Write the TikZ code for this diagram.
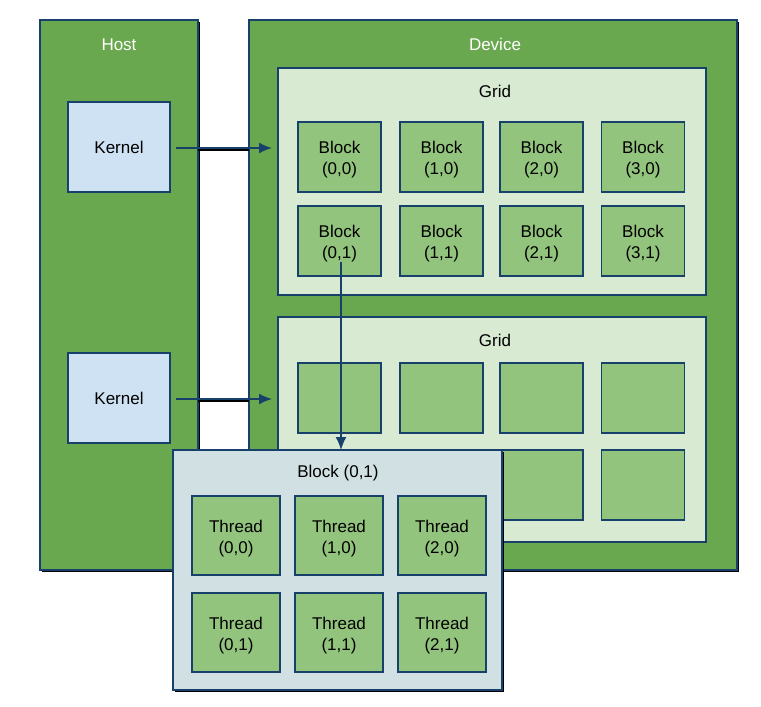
\documentclass[tikz,border=0pt]{standalone}
\usepackage{fontspec}
\setmainfont{Liberation Sans}
\usetikzlibrary{arrows.meta}
\definecolor{outergreen}{RGB}{106,168,79}
\definecolor{gridfill}{RGB}{217,234,211}
\definecolor{blockfill}{RGB}{147,196,125}
\definecolor{kernelfill}{RGB}{207,226,243}
\definecolor{panelfill}{RGB}{208,224,227}
\definecolor{edge}{RGB}{23,65,107}
\begin{document}
\begin{tikzpicture}[x=1pt,y=-1pt,
  every node/.style={font=\fontsize{17}{21}\selectfont, align=center},
  box/.style={draw=edge, line width=1.6pt, inner sep=0pt, outer sep=0pt},
  outerbox/.style={box, fill=outergreen},
  gridbox/.style={box, fill=gridfill},
  blockbox/.style={box, fill=blockfill, minimum width=83pt, minimum height=70pt},
  threadbox/.style={box, fill=blockfill, minimum width=88pt, minimum height=79pt},
  kernelbox/.style={box, fill=kernelfill, minimum width=102pt, minimum height=90pt},
  txt/.style={label={[align=center,yshift=-3pt,font=\fontsize{17}{21}\selectfont]center:{#1}}},
  shadow/.style={fill=black},
  conn/.style={draw=edge, line width=1.6pt, -{Latex[length=13pt,width=11pt]}}
]
\useasboundingbox (0,0) rectangle (761,707);
% shadows
\fill[shadow] (42,22) rectangle (200,572);
\fill[shadow] (251,22) rectangle (739,572);
% Host and Device
\draw[outerbox] (40,20) rectangle (198,570);
\draw[outerbox] (249,20) rectangle (737,570);
\node[text=white] (host) at (119,45) {Host};
\node[text=white] (device) at (495,44) {Device};
% Grids
\draw[gridbox] (278,68) rectangle (706,295);
\draw[gridbox] (278,317) rectangle (706,542);
\node (g1) at (495,91) {Grid};
\node (g2) at (495,340) {Grid};
% Kernels
\node[kernelbox] (k1) at (119,147) {Kernel};
\node[kernelbox] (k2) at (119,398) {Kernel};
% Blocks grid 1
\node[blockbox, txt={Block\\(0,0)}] (b00) at (339.5,157) {};
\node[blockbox, txt={Block\\(1,0)}] (b10) at (441.5,157) {};
\node[blockbox, txt={Block\\(2,0)}] (b20) at (541.5,157) {};
\node[blockbox, txt={Block\\(3,0)}] (b30) at (643,157) {};
\node[blockbox, txt={Block\\(0,1)}] (b01) at (339.5,241) {};
\node[blockbox, txt={Block\\(1,1)}] (b11) at (441.5,241) {};
\node[blockbox, txt={Block\\(2,1)}] (b21) at (541.5,241) {};
\node[blockbox, txt={Block\\(3,1)}] (b31) at (643,241) {};
% Blocks grid 2
\node[blockbox] (c00) at (339.5,398) {};
\node[blockbox] (c10) at (441.5,398) {};
\node[blockbox] (c20) at (541.5,398) {};
\node[blockbox] (c30) at (643,398) {};
\node[blockbox] (c01) at (339.5,485) {};
\node[blockbox] (c11) at (441.5,485) {};
\node[blockbox] (c21) at (541.5,485) {};
\node[blockbox] (c31) at (643,485) {};
% arrows from kernels
\coordinate (t1) at (272,148);
\coordinate (t2) at (272,399);
\fill[black] (198,149) rectangle (249,151);
\fill[black] (198,400) rectangle (249,402);
\draw[conn] (k1.east |- t1) ++(6,0) -- (t1);
\draw[conn] (k2.east |- t2) ++(6,0) -- (t2);
% Block (0,1) panel
\fill[shadow] (175,452) rectangle (504,692);
\draw[box, fill=panelfill] (173,450) rectangle (502,690);
\coordinate (ptop) at (341,450);
\draw[conn] (b01.center |- 0,262) ++(1.5,0) -- (ptop);
\node (bt) at (338,473) {Block (0,1)};
% Threads
\node[threadbox, txt={Thread\\(0,0)}] (t00) at (236,535.5) {};
\node[threadbox, txt={Thread\\(1,0)}] (t10) at (339,535.5) {};
\node[threadbox, txt={Thread\\(2,0)}] (t20) at (442,535.5) {};
\node[threadbox, txt={Thread\\(0,1)}] (t01) at (236,632.5) {};
\node[threadbox, txt={Thread\\(1,1)}] (t11) at (339,632.5) {};
\node[threadbox, txt={Thread\\(2,1)}] (t21) at (442,632.5) {};
\end{tikzpicture}
\end{document}
